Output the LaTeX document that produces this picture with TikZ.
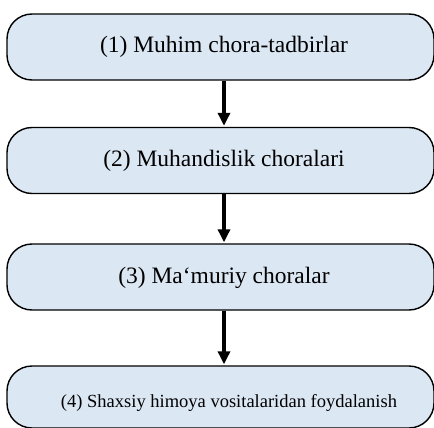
\documentclass[tikz,border=0pt]{standalone}
\usepackage{fontspec}
\setmainfont{Liberation Serif}
\usetikzlibrary{arrows.meta}
\definecolor{boxfill}{RGB}{220,231,244}
\tikzset{
  stage/.style={draw=black, line width=1.4pt, fill=boxfill, rounded corners=25pt,
    minimum width=427pt, minimum height=66pt, inner sep=0pt},
  stagetext/.style={inner sep=0pt, font=\fontsize{23.5}{28}\selectfont},
  smalltext/.style={inner sep=0pt, font=\fontsize{18.5}{22}\selectfont},
  flow/.style={line width=3.8pt, -{Triangle[width=12pt,length=13pt]}, shorten >=1pt}
}
\begin{document}
\begin{tikzpicture}[x=1pt,y=-1pt]
\useasboundingbox (0,0) rectangle (434,428);
\clip (0,0) rectangle (434,428);
% the four stages
\node[stage] (b1) at (220.5,47) {};
\node[stage] (b2) at (220.5,160.5) {};
\node[stage] (b3) at (220.5,277) {};
\node[stage, minimum height=62pt] (b4) at (220.5,397) {};
\node[stagetext] (t1) at (224,47) {(1) Muhim chora-tadbirlar};
\node[stagetext] (t2) at (224,161) {(2) Muhandislik choralari};
\node[stagetext] (t3) at (224,278) {(3) Ma‘muriy choralar};
\node[smalltext] (t4) at (229,403) {(4) Shaxsiy himoya vositalaridan foydalanish};
% arrows between stages
\draw[flow] (b1.south -| t1) -- (b2.north -| t1);
\draw[flow] (b2.south -| t1) -- (b3.north -| t1);
\draw[flow] (b3.south -| t1) -- (b4.north -| t1);
\end{tikzpicture}
\end{document}
